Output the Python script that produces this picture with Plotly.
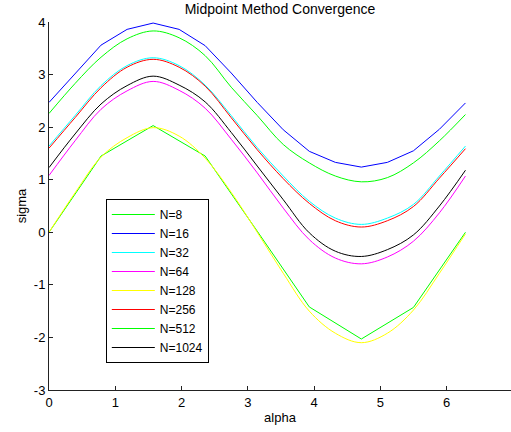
import plotly.graph_objects as go

# sample positions (alpha), 9 for N=8, 17 for the rest
alpha8 = [0, 0.785, 1.571, 2.356, 3.142, 3.927, 4.712, 5.498, 6.283]
alpha = [0, 0.393, 0.785, 1.178, 1.571, 1.963, 2.356, 2.749, 3.142,
         3.534, 3.927, 4.320, 4.712, 5.105, 5.498, 5.890, 6.283]

sig_8 = [0, 1.45, 2.03, 1.45, 0.02, -1.42, -2.03, -1.43, 0.0]
sig_16 = [2.47, 3.02, 3.56, 3.86, 3.98, 3.86, 3.55, 3.03, 2.47, 1.95, 1.54, 1.33, 1.24, 1.33, 1.55, 1.96, 2.46]
sig_32 = [1.64, 2.22, 2.79, 3.17, 3.32, 3.17, 2.80, 2.22, 1.61, 1.07, 0.59, 0.27, 0.15, 0.27, 0.53, 1.07, 1.64]
sig_64 = [1.08, 1.74, 2.34, 2.69, 2.87, 2.70, 2.36, 1.77, 1.13, 0.46, -0.14, -0.49, -0.60, -0.47, -0.17, 0.37, 1.07]
sig_128 = [0, 0.75, 1.43, 1.80, 1.99, 1.83, 1.41, 0.76, 0.0, -0.78, -1.50, -1.92, -2.10, -1.92, -1.48, -0.78, -0.03]
sig_256 = [1.60, 2.18, 2.75, 3.14, 3.29, 3.14, 2.78, 2.18, 1.57, 1.02, 0.55, 0.22, 0.10, 0.22, 0.49, 1.03, 1.59]
sig_512 = [2.26, 2.83, 3.33, 3.68, 3.83, 3.70, 3.36, 2.76, 2.22, 1.67, 1.32, 1.07, 0.96, 1.04, 1.32, 1.74, 2.24]
sig_1024 = [1.23, 1.87, 2.44, 2.79, 2.97, 2.80, 2.48, 1.90, 1.26, 0.62, -0.01, -0.36, -0.46, -0.33, -0.05, 0.50, 1.18]

y_ticks = [-3, -2, -1, 0, 1, 2, 3, 4]
y_labels = ['-3', '-2', '-1', '0', '1', '2', '3', '4']  # plain hyphen like the original

series = [
    ('N=8', alpha8, sig_8, '#00ff00', 'linear'),
    ('N=16', alpha, sig_16, '#0000ff', 'linear'),
    ('N=32', alpha, sig_32, '#00ffff', 'spline'),
    ('N=64', alpha, sig_64, '#ff00ff', 'spline'),
    ('N=128', alpha, sig_128, '#ffff00', 'spline'),
    ('N=256', alpha, sig_256, '#ff0000', 'spline'),
    ('N=512', alpha, sig_512, '#00ff00', 'spline'),
    ('N=1024', alpha, sig_1024, '#000000', 'spline'),
]

fig = go.Figure()
for name, xx, yy, col, shp in series:
    fig.add_trace(go.Scatter(x=xx, y=yy, mode='lines', name=name,
                             line=dict(color=col, width=1, shape=shp)))

axis_style = dict(showline=True, linecolor='#222222', linewidth=1, ticks='inside', ticklen=4,
                  tickcolor='#222222', showgrid=False, zeroline=False, mirror=False,
                  tickfont=dict(size=13, color='black'))

fig.update_layout(
    width=511, height=432,
    margin=dict(l=49, r=0, t=22, b=42),
    paper_bgcolor='white', plot_bgcolor='white',
    font=dict(family='Liberation Sans, Arial', size=13, color='black'),
    title=dict(text='Midpoint Method Convergence', x=0.548, xanchor='center',
               y=0.98, yanchor='middle', font=dict(size=14)),
    xaxis=dict(range=[0, 6.97], dtick=1, title=dict(text='alpha', standoff=4, font=dict(size=13)),
               **axis_style),
    yaxis=dict(range=[-3, 4], tickvals=y_ticks, ticktext=y_labels,
               title=dict(text='sigma', standoff=4, font=dict(size=13)), **axis_style),
    legend=dict(x=0.123, y=0.519, xanchor='left', yanchor='top', bgcolor='white',
                bordercolor='black', borderwidth=1, font=dict(size=12), itemwidth=43),
)

# drop the page's default body margin so the figure sits at the window corner
fig.write_html('out.html', config={'displayModeBar': False},
               post_script="document.body.style.margin='0';")
